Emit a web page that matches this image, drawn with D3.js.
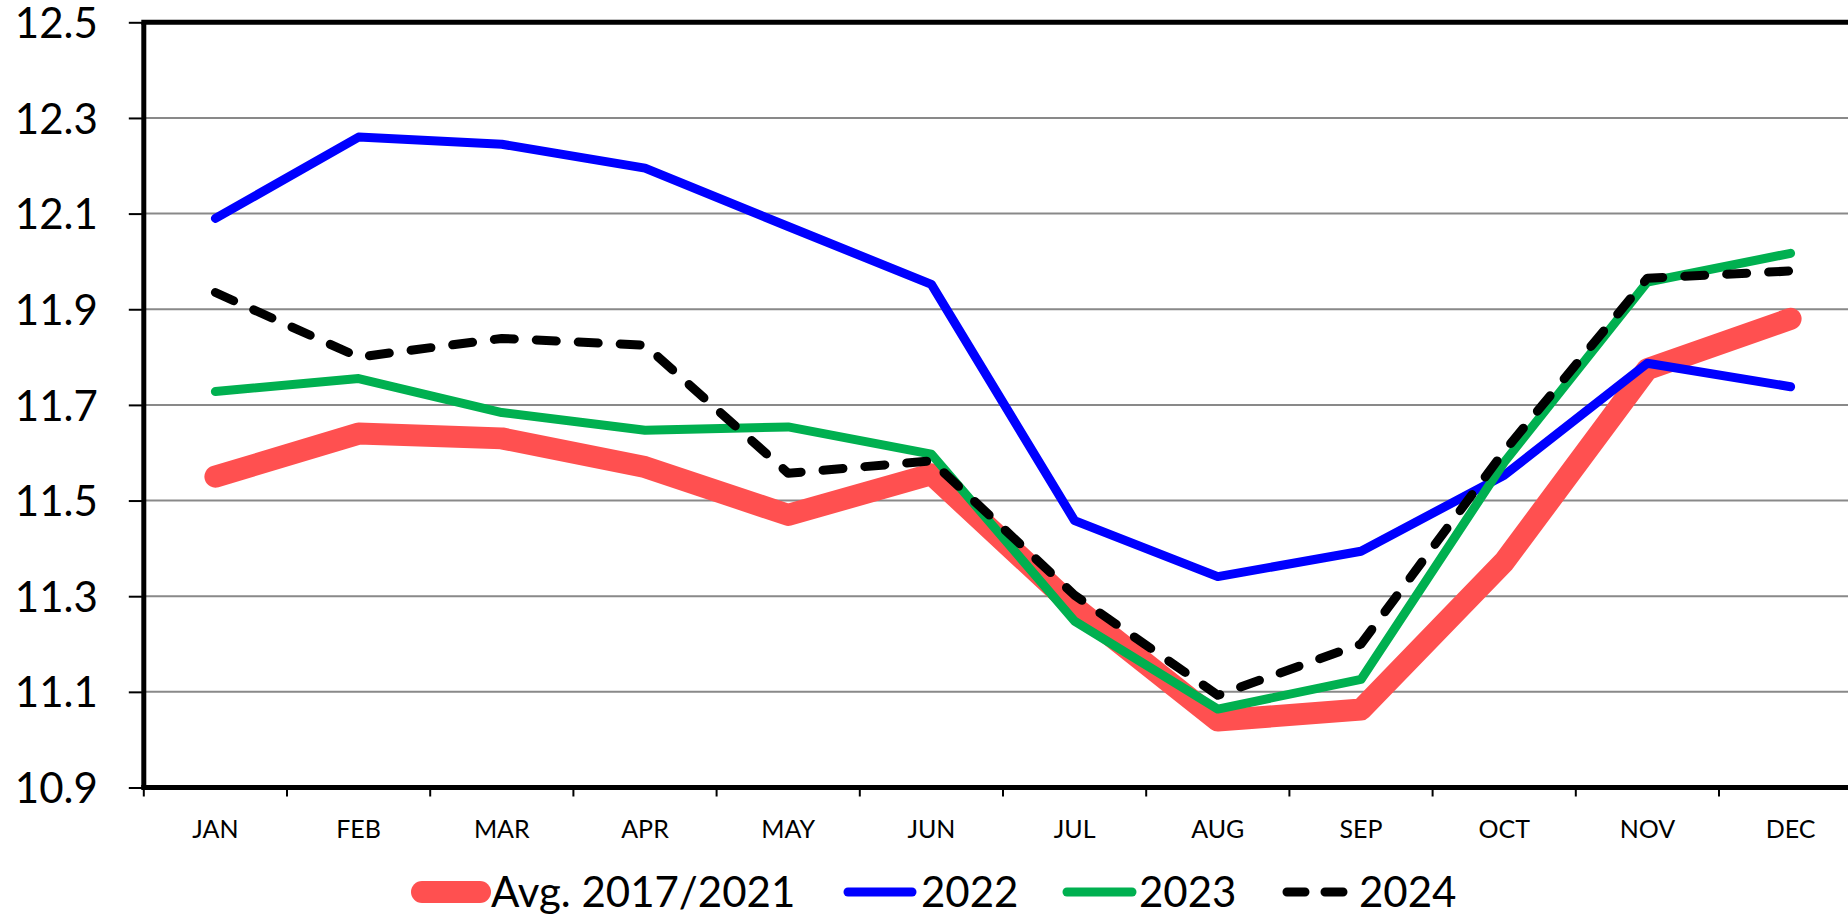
<!DOCTYPE html>
<html><head><meta charset="utf-8">
<script src="https://cdn.jsdelivr.net/npm/d3@7"></script>
<style>html,body{margin:0;padding:0;background:#fff;overflow:hidden}svg{display:block}</style>
</head><body>
<script>
const months = ["JAN","FEB","MAR","APR","MAY","JUN","JUL","AUG","SEP","OCT","NOV","DEC"];
const avg2017_2021 = [11.55,11.64,11.63,11.57,11.47,11.555,11.277,11.04,11.063,11.372,11.775,11.88];
const y2022 = [12.09,12.26,12.245,12.195,12.073,11.952,11.458,11.341,11.394,11.553,11.787,11.738];
const y2023 = [11.728,11.755,11.684,11.647,11.654,11.597,11.248,11.064,11.126,11.58,11.957,12.017];
const y2024 = [11.935,11.8,11.839,11.825,11.557,11.583,11.302,11.093,11.2,11.603,11.965,11.98];
const yTicks = [10.9,11.1,11.3,11.5,11.7,11.9,12.1,12.3,12.5];
const seriesNames = ["Avg. 2017/2021","2022","2023","2024"];

(function(){
const W = 1848, H = 918;
const pLeft = 143.8, pTop = 22.3, pBottom = 787.5, pRight = 143.8 + 143.2*12;
const svg = d3.select("body").append("svg").attr("width", W).attr("height", H);
const font = "Lato, 'Open Sans', sans-serif";

const x = d3.scaleBand().domain(months).range([pLeft, pRight]).padding(0);
const y = d3.scaleLinear().domain([10.9, 12.5]).range([pBottom, pTop]);

// gridlines
svg.append("g").selectAll("line").data(yTicks.slice(1)).join("line")
  .attr("x1", pLeft).attr("x2", W).attr("y1", d=>y(d)).attr("y2", d=>y(d))
  .attr("stroke", "#898989").attr("stroke-width", 2);

// y axis
const yAxis = d3.axisLeft(y).tickValues(yTicks).tickFormat(d3.format(".1f")).tickSize(15).tickPadding(31);
const gy = svg.append("g").attr("transform", `translate(${pLeft},0)`).call(yAxis);
gy.select(".domain").remove();
gy.selectAll(".tick line").attr("stroke", "#000").attr("stroke-width", 2);
gy.selectAll("text").attr("font-family", font).attr("font-size", 42).attr("fill", "#000").attr("dy", "0.36em");

// x axis ticks at band boundaries
const bounds = d3.range(13).map(i => pLeft + x.step()*i);
svg.append("g").selectAll("line").data(bounds).join("line")
  .attr("x1", d=>d).attr("x2", d=>d).attr("y1", pBottom).attr("y2", pBottom+9)
  .attr("stroke", "#000").attr("stroke-width", 2);
svg.append("g").selectAll("text").data(months).join("text")
  .attr("x", d => x(d) + x.bandwidth()/2).attr("y", 828.5).attr("dy", "0.36em")
  .attr("text-anchor", "middle").attr("font-family", font).attr("font-size", 25).attr("fill", "#000")
  .text(d=>d);

// frame
svg.append("line").attr("x1", pLeft-2.5).attr("x2", W).attr("y1", pTop).attr("y2", pTop).attr("stroke","#000").attr("stroke-width",5);
svg.append("line").attr("x1", pLeft).attr("x2", pLeft).attr("y1", pTop).attr("y2", pBottom).attr("stroke","#000").attr("stroke-width",5);
svg.append("line").attr("x1", pLeft-2.5).attr("x2", W).attr("y1", pBottom).attr("y2", pBottom).attr("stroke","#000").attr("stroke-width",5);

const styles = [
  {data: avg2017_2021, color: "#FF5050", width: 22, dash: null},
  {data: y2022, color: "#0000FF", width: 9, dash: null},
  {data: y2023, color: "#00B050", width: 9, dash: null},
  {data: y2024, color: "#000000", width: 9, dash: "20,22"}
];
const line = d3.line().x((d,i) => x(months[i]) + x.bandwidth()/2).y(d => y(d));
styles.forEach(s => {
  svg.append("path").datum(s.data).attr("d", line)
    .attr("fill","none").attr("stroke", s.color).attr("stroke-width", s.width)
    .attr("stroke-linejoin","round").attr("stroke-linecap","round")
    .attr("stroke-dasharray", s.dash);
});

// legend
const legendPos = [{x1:422,x2:480,tx:491},{x1:848,x2:912,tx:921},{x1:1067,x2:1132,tx:1139},{x1:1287,x2:1350,tx:1359}];
const ly = 892;
styles.forEach((s,i) => {
  const p = legendPos[i];
  svg.append("line").attr("x1", p.x1).attr("x2", p.x2).attr("y1", ly).attr("y2", ly)
    .attr("stroke", s.color).attr("stroke-width", s.width).attr("stroke-linecap","round")
    .attr("stroke-dasharray", s.dash ? "18,20" : null);
  svg.append("text").attr("x", p.tx).attr("y", ly).attr("dy","0.36em")
    .attr("font-family", font).attr("font-size", 42).attr("fill","#000").text(seriesNames[i]);
});
})();
</script>
</body></html>
